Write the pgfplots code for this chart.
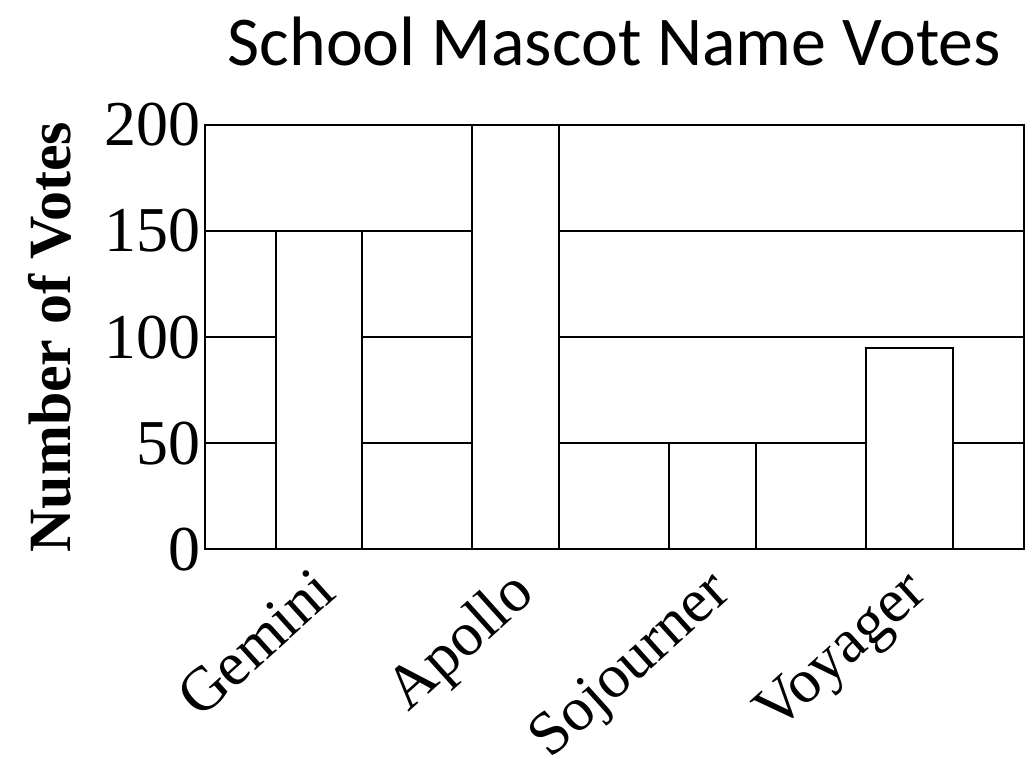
\documentclass[border=0pt]{standalone}
\usepackage{pgfplots}
\pgfplotsset{compat=1.18}
\usepackage{fontspec}
\setmainfont{Liberation Serif}
\newfontfamily\titlefont{Carlito}
\usetikzlibrary{calc}
\begin{document}
\begin{tikzpicture}
\begin{axis}[
  scale only axis,
  width=410pt, height=212.5pt,
  xmin=-0.58, xmax=3.58,
  ymin=0, ymax=200,
  ytick={0,50,100,150,200},
  xtick={0,1,2,3},
  xticklabels={Gemini,Apollo,Sojourner,Voyager},
  x tick label style={rotate=42, anchor=north east, font=\fontsize{31}{34}\selectfont, inner sep=2pt, xshift=-6pt, yshift=-1pt},
  y tick label style={font=\fontsize{32}{34}\selectfont, inner sep=2pt},
  /pgf/number format/assume math mode=true,
  ymajorgrids,
  grid style={black, line width=1pt},
  major tick length=0pt,
  axis line style={black, line width=1pt},
  axis lines*=box,
  ylabel={\bfseries Number of Votes},
  ylabel style={font=\fontsize{30}{32}\selectfont, at={(axis description cs:-0.189,0.5)}, anchor=center},
  title={\titlefont School Mascot Name Votes},
  title style={font=\fontsize{35}{38}\selectfont, yshift=20pt},
  ybar, bar width=43.5pt,
]
\addplot[fill=white, draw=black, line width=1pt] coordinates {(0,150) (1,200) (2,50) (3,95)};
\coordinate (bl) at (rel axis cs:0,0);
\coordinate (tr) at (rel axis cs:1,1);
\end{axis}
\pgfresetboundingbox
\path[use as bounding box] ($(bl)+(-102.5pt,-112.5pt)$) rectangle ($(tr)+(1pt,62.5pt)$);
\end{tikzpicture}
\end{document}
